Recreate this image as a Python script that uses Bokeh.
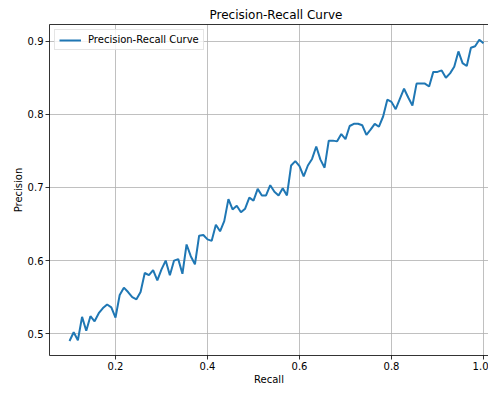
from bokeh.plotting import figure
from bokeh.models import Range1d, FixedTicker, PrintfTickFormatter, LinearAxis
from bokeh.embed import file_html
from bokeh.resources import INLINE

recall = [
    0.1000, 0.1091, 0.1182, 0.1273, 0.1364, 0.1455, 0.1545, 0.1636, 0.1727, 0.1818, 0.1909,
    0.2000, 0.2091, 0.2182, 0.2273, 0.2364, 0.2455, 0.2545, 0.2636, 0.2727, 0.2818, 0.2909,
    0.3000, 0.3091, 0.3182, 0.3273, 0.3364, 0.3455, 0.3545, 0.3636, 0.3727, 0.3818, 0.3909,
    0.4000, 0.4091, 0.4182, 0.4273, 0.4364, 0.4455, 0.4545, 0.4636, 0.4727, 0.4818, 0.4909,
    0.5000, 0.5091, 0.5182, 0.5273, 0.5364, 0.5455, 0.5545, 0.5636, 0.5727, 0.5818, 0.5909,
    0.6000, 0.6091, 0.6182, 0.6273, 0.6364, 0.6455, 0.6545, 0.6636, 0.6727, 0.6818, 0.6909,
    0.7000, 0.7091, 0.7182, 0.7273, 0.7364, 0.7455, 0.7545, 0.7636, 0.7727, 0.7818, 0.7909,
    0.8000, 0.8091, 0.8182, 0.8273, 0.8364, 0.8455, 0.8545, 0.8636, 0.8727, 0.8818, 0.8909,
    0.9000, 0.9091, 0.9182, 0.9273, 0.9364, 0.9455, 0.9545, 0.9636, 0.9727, 0.9818, 0.9909,
    1.0000,
]

precision = [
    0.490, 0.502, 0.491, 0.523, 0.504, 0.524, 0.517, 0.528, 0.535, 0.540,
    0.536, 0.522, 0.553, 0.563, 0.557, 0.550, 0.547, 0.557, 0.583, 0.580,
    0.587, 0.573, 0.588, 0.600, 0.580, 0.600, 0.602, 0.582, 0.622, 0.606,
    0.595, 0.634, 0.635, 0.629, 0.627, 0.649, 0.640, 0.654, 0.684, 0.670,
    0.675, 0.666, 0.671, 0.686, 0.682, 0.698, 0.689, 0.689, 0.703, 0.694,
    0.689, 0.699, 0.689, 0.730, 0.736, 0.729, 0.715, 0.730, 0.739, 0.756,
    0.738, 0.727, 0.764, 0.764, 0.763, 0.773, 0.766, 0.784, 0.787, 0.787,
    0.785, 0.772, 0.779, 0.787, 0.783, 0.797, 0.820, 0.817, 0.807, 0.821,
    0.835, 0.823, 0.812, 0.842, 0.842, 0.842, 0.838, 0.858, 0.858, 0.860,
    0.850, 0.856, 0.865, 0.886, 0.870, 0.866, 0.891, 0.893, 0.902, 0.897,
]

x_ticks = [0.2, 0.4, 0.6, 0.8, 1.0]
y_ticks = [0.5, 0.6, 0.7, 0.8, 0.9]

FONT = "DejaVu Sans"

p = figure(
    width=488, height=388,
    x_range=Range1d(0.0565, 1.0109), y_range=Range1d(0.4702, 0.9228),
    output_backend="svg", toolbar_location=None,
    title="Precision-Recall Curve",
    min_border_left=49, min_border_right=0, min_border_top=24, min_border_bottom=33,
)
p.background_fill_color = "white"
p.border_fill_color = "white"
p.outline_line_color = None

p.title.text_font = FONT
p.title.text_font_size = "12px"
p.title.text_font_style = "normal"
p.title.align = "left"
p.title.offset = 160
p.title.standoff = 6
p.title.text_color = "black"

for ax, ticks, lab in ((p.xaxis[0], x_ticks, "Recall"), (p.yaxis[0], y_ticks, "Precision")):
    ax.ticker = FixedTicker(ticks=ticks)
    ax.formatter = PrintfTickFormatter(format="%.1f")
    ax.axis_label = lab
    ax.axis_label_text_font = FONT
    ax.axis_label_text_font_size = "10px"
    ax.axis_label_text_font_style = "normal"
    ax.axis_label_text_color = "black"
    ax.axis_label_standoff = 1
    ax.major_label_text_font = FONT
    ax.major_label_text_font_size = "10px"
    ax.major_label_text_color = "black"
    ax.major_label_standoff = 2
    ax.major_tick_out = 4
    ax.major_tick_in = 0
    ax.minor_tick_line_color = None
    ax.axis_line_color = "black"
    ax.axis_line_width = 0.8
    ax.major_tick_line_color = "black"
    ax.major_tick_line_width = 0.8

top_axis = LinearAxis(ticker=FixedTicker(ticks=[]), axis_line_color="black", axis_line_width=0.8,
                      major_tick_line_color=None, minor_tick_line_color=None,
                      major_label_text_font_size="0px")
p.add_layout(top_axis, "above")

p.xgrid.ticker = FixedTicker(ticks=x_ticks)
p.ygrid.ticker = FixedTicker(ticks=y_ticks)
for g in (p.xgrid[0], p.ygrid[0]):
    g.grid_line_color = "#b0b0b0"
    g.grid_line_width = 0.8

p.line(recall, precision, line_color="#1f77b4", line_width=2, legend_label="Precision-Recall Curve")

lg = p.legend[0]
lg.location = "top_left"
lg.margin = 5
lg.padding = 4
lg.spacing = 0
lg.label_text_font = FONT
lg.label_text_font_size = "10px"
lg.label_text_color = "black"
lg.label_height = 10
lg.glyph_height = 10
lg.glyph_width = 22
lg.label_standoff = 7
lg.border_line_color = "#cccccc"
lg.border_line_width = 1
lg.background_fill_alpha = 0.8

open("out.html", "w").write(file_html(p, INLINE))
